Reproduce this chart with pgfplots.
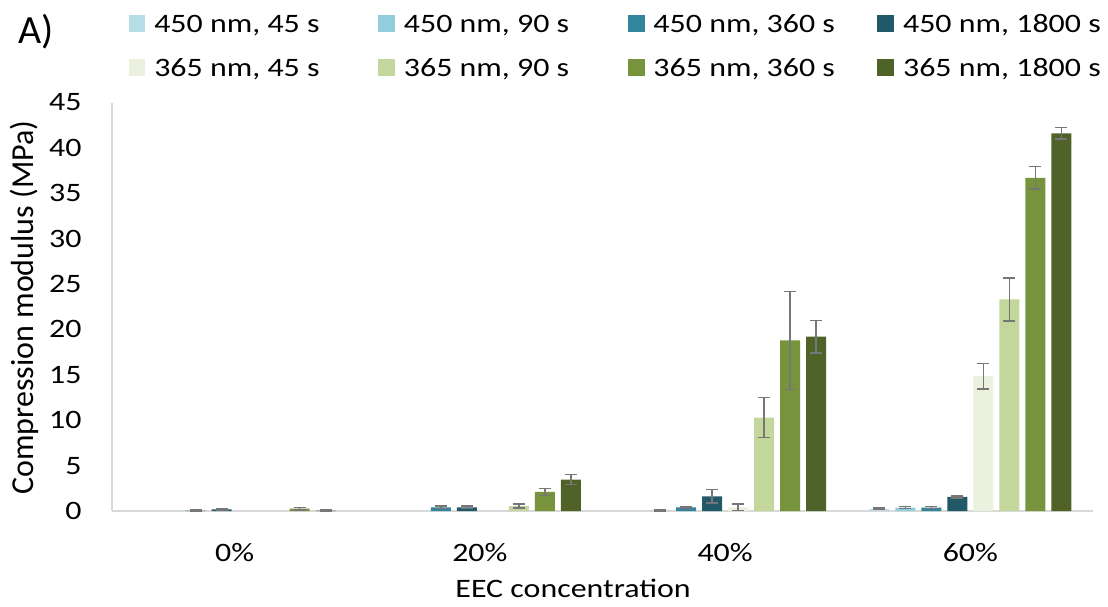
\documentclass[border=0pt]{standalone}
\usepackage{fontspec}
\setmainfont{Carlito}[FakeStretch=1.2]
\newfontfamily\plainfont{Carlito}
\usepackage{pgfplots}
\pgfplotsset{compat=1.18}
\definecolor{cA}{HTML}{B7DEE8}
\definecolor{cB}{HTML}{92CDDC}
\definecolor{cC}{HTML}{31859C}
\definecolor{cD}{HTML}{215968}
\definecolor{cE}{HTML}{EBF1DE}
\definecolor{cF}{HTML}{C3D69B}
\definecolor{cG}{HTML}{77933C}
\definecolor{cH}{HTML}{4F6228}
\definecolor{axisgray}{HTML}{D9D9D9}
\definecolor{errgray}{HTML}{767676}
\begin{document}
\begin{tikzpicture}
\useasboundingbox (-56pt,-47.5pt) rectangle (498pt,255.5pt);
\begin{axis}[
  at={(0,0)}, anchor=south west,
  scale only axis, width=490.5pt, height=204.25pt,
  xmin=-0.5, xmax=3.5, ymin=0, ymax=45,
  ybar=3pt, bar width=10pt,
  xtick={0,1,2,3}, xticklabels={0\%,20\%,40\%,60\%},
  ytick={0,5,...,45},
  major tick length=0pt,
  axis x line=bottom, axis y line=left,
  x axis line style={-, draw=axisgray, line width=1pt},
  y axis line style={-, draw=axisgray, line width=0.6pt},
  tick label style={font=\fontsize{13.3}{16}\selectfont},
  /pgf/number format/assume math mode=true,
  yticklabel style={anchor=east, inner sep=0pt, xshift=-15pt},
  xticklabel style={anchor=base, inner sep=0pt, yshift=-25pt},
  xlabel={EEC concentration},
  xlabel style={at={(axis description cs:0.47,0)}, anchor=base, yshift=-43pt, inner sep=0pt, font=\fontsize{13.3}{16}\selectfont},
  ylabel={Compression modulus (MPa)},
  ylabel style={at={(axis description cs:-0.0802,0.498)}, anchor=base, inner sep=0pt, font=\plainfont\fontsize{16}{19}\selectfont},
  legend columns=4,
  legend style={draw=none, fill=none, inner sep=0pt, outer sep=0pt,
    at={(axis description cs:0,1)}, anchor=north west, xshift=8.35pt, yshift=43.75pt,
    row sep=11pt,
    nodes={inner sep=0pt, text height=8.5pt, text depth=2pt, font=\fontsize{13.3}{16}\selectfont},
    cells={anchor=base west},
    /tikz/every odd column/.append style={column sep=4.5pt},
    /tikz/every even column/.append style={column sep=0pt}},
  legend image code/.code={\fill[#1] (0pt,0.3pt) rectangle (8.3pt,9pt);},
  error bars/y dir=both, error bars/y explicit,
  error bars/error bar style={color=errgray, line width=0.8pt},
  error bars/error mark options={rotate=90, mark size=3pt, line width=0.8pt, color=errgray},
]
% 450 nm, 45 s
\addplot[fill=cA, draw=none] coordinates {(3,0.25) +- (0,0.1)};
\addlegendentry{\makebox[112pt][l]{450 nm, 45 s}}
% 450 nm, 90 s
\addplot[fill=cB, draw=none] coordinates {(2,0.05) +- (0,0.03) (3,0.38) +- (0,0.12)};
\addlegendentry{\makebox[112pt][l]{450 nm, 90 s}}
% 450 nm, 360 s
\addplot[fill=cC, draw=none] coordinates {(0,0.05) +- (0,0.03) (1,0.4) +- (0,0.12) (2,0.4) +- (0,0.1) (3,0.38) +- (0,0.12)};
\addlegendentry{\makebox[112pt][l]{450 nm, 360 s}}
% 450 nm, 1800 s
\addplot[fill=cD, draw=none] coordinates {(0,0.18) +- (0,0.04) (1,0.4) +- (0,0.12) (2,1.6) +- (0,0.75) (3,1.55) +- (0,0.12)};
\addlegendentry{\makebox[112pt][l]{450 nm, 1800 s}}
% 365 nm, 45 s
\addplot[fill=cE, draw=none] coordinates {(2,0.4) +- (0,0.35) (3,14.85) +- (0,1.4)};
\addlegendentry{\makebox[112pt][l]{365 nm, 45 s}}
% 365 nm, 90 s
\addplot[fill=cF, draw=none] coordinates {(1,0.55) +- (0,0.25) (2,10.3) +- (0,2.2) (3,23.3) +- (0,2.35)};
\addlegendentry{\makebox[112pt][l]{365 nm, 90 s}}
% 365 nm, 360 s
\addplot[fill=cG, draw=none] coordinates {(0,0.25) +- (0,0.12) (1,2.1) +- (0,0.38) (2,18.8) +- (0,5.4) (3,36.7) +- (0,1.25)};
\addlegendentry{\makebox[112pt][l]{365 nm, 360 s}}
% 365 nm, 1800 s
\addplot[fill=cH, draw=none] coordinates {(0,0.05) +- (0,0.03) (1,3.45) +- (0,0.55) (2,19.2) +- (0,1.8) (3,41.6) +- (0,0.65)};
\addlegendentry{\makebox[112pt][l]{365 nm, 1800 s}}
\end{axis}
\node[anchor=base west, inner sep=0pt, font=\plainfont\fontsize{20}{24}\selectfont] at (-47pt,233.5pt) {A)};
\end{tikzpicture}
\end{document}
